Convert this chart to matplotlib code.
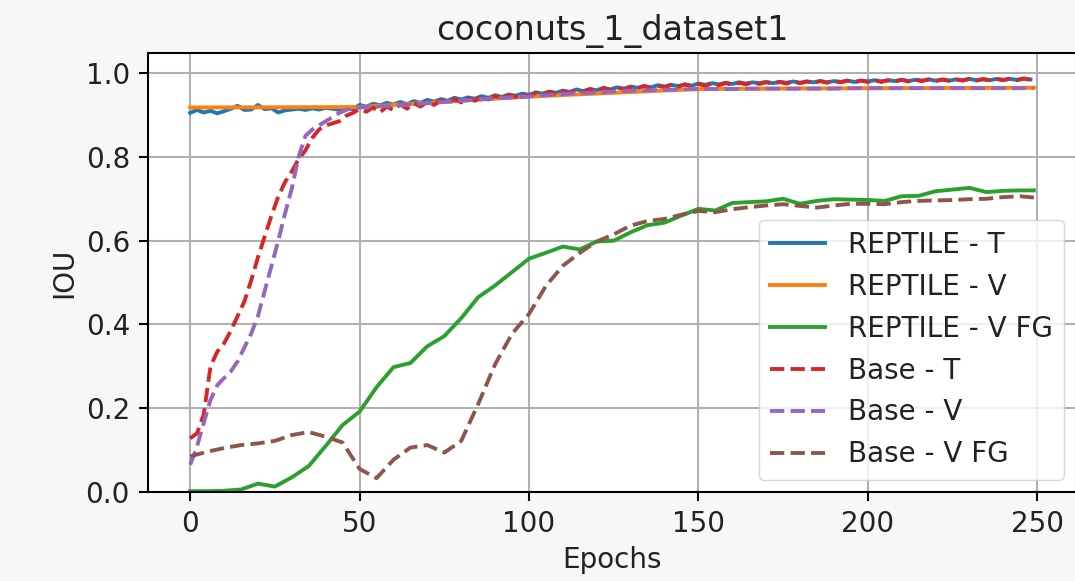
import numpy as np
import matplotlib
matplotlib.use('Agg')
import matplotlib.pyplot as plt

# epochs for the densely logged curves (every 2 epochs)
epochs_dense = list(range(0, 250, 2))
# epochs for the smoothed foreground curves
epochs_fg = list(range(0, 250, 5)) + [249]
# epochs for the sparsely evaluated REPTILE - V curve
epochs_rv = [0, 50, 100, 150, 200, 249]
# epochs for Base - V
epochs_bv = list(range(0, 51, 2)) + list(range(55, 250, 5)) + [249]

reptile_t = [
    0.905, 0.912, 0.906, 0.910, 0.904, 0.909, 0.915, 0.922, 0.912, 0.913,
    0.924, 0.914, 0.916, 0.906, 0.911, 0.913, 0.915, 0.912, 0.916, 0.913,
    0.917, 0.915, 0.912, 0.918, 0.914,
    0.924, 0.920, 0.927, 0.923, 0.929, 0.925, 0.931, 0.926, 0.933, 0.929,
    0.936, 0.932, 0.938, 0.934, 0.941, 0.937, 0.942, 0.939, 0.945, 0.941,
    0.947, 0.943, 0.949, 0.946, 0.951,
    0.948, 0.954, 0.951, 0.956, 0.953, 0.958, 0.955, 0.961, 0.957, 0.962,
    0.959, 0.965, 0.961, 0.966, 0.963, 0.968, 0.965, 0.969, 0.966, 0.971,
    0.968, 0.972, 0.969, 0.973, 0.970,
    0.975, 0.972, 0.976, 0.973, 0.977, 0.974, 0.978, 0.975, 0.978, 0.976,
    0.979, 0.976, 0.979, 0.977, 0.980, 0.977, 0.980, 0.978, 0.981, 0.978,
    0.981, 0.979, 0.982, 0.979, 0.982,
    0.980, 0.983, 0.980, 0.983, 0.981, 0.984, 0.981, 0.984, 0.982, 0.985,
    0.982, 0.984, 0.982, 0.985, 0.983, 0.986, 0.983, 0.985, 0.983, 0.986,
    0.984, 0.986, 0.984, 0.987, 0.985,
]

reptile_v = [0.918, 0.919, 0.944, 0.962, 0.964, 0.965]

reptile_vfg = [
    0.002, 0.002, 0.003, 0.006, 0.020, 0.013, 0.035, 0.062, 0.110, 0.160,
    0.192, 0.250, 0.298, 0.308, 0.348, 0.372, 0.415, 0.465, 0.493, 0.525,
    0.557, 0.571, 0.586, 0.579, 0.598, 0.600, 0.620, 0.637, 0.643, 0.660,
    0.676, 0.672, 0.690, 0.692, 0.694, 0.700, 0.688, 0.695, 0.699, 0.698,
    0.697, 0.695, 0.706, 0.707, 0.718, 0.722, 0.726, 0.716, 0.719, 0.720,
    0.720,
]

base_t = [
    0.128, 0.140, 0.185, 0.300, 0.335, 0.355, 0.385, 0.420, 0.455, 0.505,
    0.560, 0.610, 0.660, 0.705, 0.740, 0.765, 0.795, 0.815, 0.845, 0.865,
    0.875, 0.880, 0.885, 0.898, 0.905,
    0.914, 0.908, 0.918, 0.906, 0.920, 0.912, 0.925, 0.915, 0.928, 0.920,
    0.932, 0.924, 0.935, 0.928, 0.938, 0.930, 0.940, 0.934, 0.943, 0.937,
    0.946, 0.940, 0.948, 0.943, 0.950,
    0.945, 0.953, 0.947, 0.955, 0.950, 0.958, 0.952, 0.960, 0.955, 0.962,
    0.957, 0.964, 0.959, 0.966, 0.961, 0.967, 0.963, 0.969, 0.964, 0.970,
    0.966, 0.972, 0.967, 0.973, 0.969,
    0.974, 0.970, 0.975, 0.971, 0.976, 0.972, 0.977, 0.973, 0.978, 0.974,
    0.978, 0.975, 0.979, 0.975, 0.980, 0.976, 0.980, 0.977, 0.981, 0.977,
    0.981, 0.978, 0.982, 0.978, 0.982,
    0.979, 0.983, 0.979, 0.983, 0.980, 0.984, 0.980, 0.984, 0.981, 0.985,
    0.981, 0.985, 0.982, 0.985, 0.982, 0.986, 0.982, 0.986, 0.983, 0.986,
    0.983, 0.987, 0.983, 0.987, 0.984,
]

base_v = [
    0.065, 0.108, 0.165, 0.220, 0.255, 0.272, 0.288, 0.312, 0.345, 0.378,
    0.420, 0.480, 0.540, 0.600, 0.665, 0.725, 0.800, 0.850, 0.865, 0.875,
    0.885, 0.895, 0.905, 0.912, 0.916, 0.918,
    0.920, 0.922, 0.925, 0.928, 0.931, 0.934, 0.937, 0.940, 0.942, 0.944,
    0.947, 0.950, 0.952, 0.954, 0.956, 0.958, 0.959, 0.960, 0.961, 0.962,
    0.962, 0.962, 0.963, 0.963, 0.963, 0.963, 0.963, 0.963, 0.964, 0.964,
    0.964, 0.964, 0.964, 0.964, 0.964, 0.964, 0.964, 0.964, 0.964, 0.964,
]

base_vfg = [
    0.085, 0.096, 0.105, 0.112, 0.116, 0.122, 0.136, 0.143, 0.132, 0.118,
    0.055, 0.033, 0.077, 0.106, 0.112, 0.094, 0.122, 0.210, 0.305, 0.378,
    0.425, 0.492, 0.540, 0.571, 0.598, 0.615, 0.636, 0.647, 0.652, 0.662,
    0.671, 0.668, 0.675, 0.680, 0.684, 0.687, 0.683, 0.679, 0.684, 0.688,
    0.688, 0.687, 0.692, 0.695, 0.696, 0.697, 0.699, 0.700, 0.704, 0.706,
    0.703,
]

s = 1.858   # scale for lines, ticks, spines
fs = 2.0    # scale for text

fig = plt.figure(figsize=(10.75, 5.81), dpi=100, facecolor='#f6f7f9')
ax = fig.add_axes([148/1075, 89/581, 928/1075, 439/581])

lw = 1.5*s
ax.plot(epochs_dense, reptile_t, color='C0', lw=lw, label='REPTILE - T')
ax.plot(epochs_rv, reptile_v, color='C1', lw=lw, label='REPTILE - V')
ax.plot(epochs_fg, reptile_vfg, color='C2', lw=lw, label='REPTILE - V FG')
ax.plot(epochs_dense, base_t, color='C3', lw=lw, ls='--', label='Base - T')
ax.plot(epochs_bv, base_v, color='C4', lw=lw, ls='--', label='Base - V')
ax.plot(epochs_fg, base_vfg, color='C5', lw=lw, ls='--', label='Base - V FG')

ax.set_xlim(-12.45, 261.45)
ax.set_ylim(0, 1.048)
ax.set_xticks([0, 50, 100, 150, 200, 250])
ax.set_yticks([0.0, 0.2, 0.4, 0.6, 0.8, 1.0])
ax.grid(True, color='#b0b0b0', lw=0.8*s)
for sp in ax.spines.values():
    sp.set_linewidth(0.8*s)
ax.tick_params(labelsize=10*fs, length=3.5*s, width=0.8*s, pad=3.5*s,
               labelcolor='#222222')

ax.set_title('coconuts_1_dataset1', fontsize=12*fs, pad=5*s, color='#222222')
ax.set_xlabel('Epochs', fontsize=10*fs, labelpad=3*s, color='#222222')
ax.set_ylabel('IOU', fontsize=10*fs, labelpad=3*s, color='#222222')
leg = ax.legend(loc='lower right', fontsize=10*fs, borderaxespad=0.45)
for t in leg.get_texts():
    t.set_color('#222222')

fig.savefig('out.png', dpi=100, facecolor=fig.get_facecolor())
